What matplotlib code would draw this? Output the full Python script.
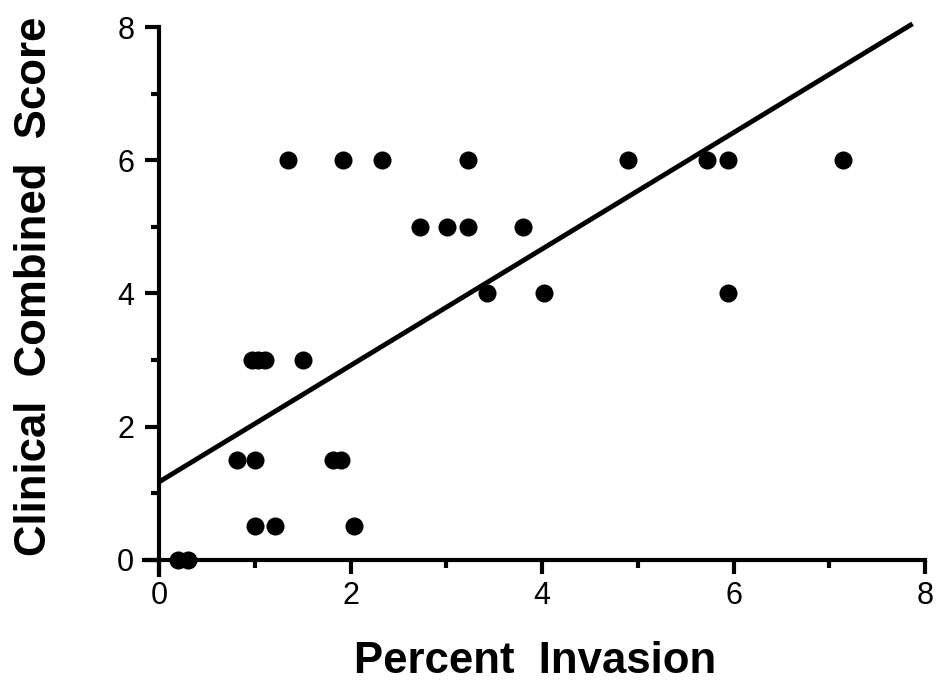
import numpy as np
import matplotlib
matplotlib.use("Agg")
import matplotlib.pyplot as plt
from matplotlib.ticker import MultipleLocator

# Data
percent_invasion = [0.20, 0.30, 0.81, 1.00, 1.00, 1.21, 0.97, 1.03, 1.10, 1.50,
                    1.34, 1.81, 1.90, 2.03, 1.92, 2.33, 2.72, 3.01, 3.23, 3.23,
                    3.42, 3.80, 4.02, 4.90, 5.72, 5.94, 5.94, 7.14]
clinical_score = [0, 0, 1.5, 1.5, 0.5, 0.5, 3, 3, 3, 3,
                  6, 1.5, 1.5, 0.5, 6, 6, 5, 5, 5, 6,
                  4, 5, 4, 6, 6, 6, 4, 6]
fit_intercept = 1.17
fit_slope = 0.874
fit_x = [0.0, 7.87]
x_ticks = [0, 2, 4, 6, 8]
y_ticks = [0, 2, 4, 6, 8]

plt.rcParams['font.family'] = ['Liberation Sans', 'DejaVu Sans']

fig = plt.figure(figsize=(9.38, 6.87), dpi=100)
W, H = 938, 687
left, right, top, bottom = 144, 925, 27, 575
ax = fig.add_axes([left / W, 1 - bottom / H, (right - left) / W, (bottom - top) / H])

ax.scatter(percent_invasion, clinical_score, s=13**2, color='black', zorder=3,
           clip_on=False, linewidths=0)
fx = np.array(fit_x)
ax.plot(fx, fit_intercept + fit_slope * fx, color='black', lw=3.5, clip_on=False,
        solid_capstyle='butt')

ax.set_xlim(-0.16, 8)
ax.set_ylim(-0.23, 8)
ax.spines['left'].set_position(('data', 0))
ax.spines['bottom'].set_position(('data', 0))
ax.spines['top'].set_visible(False)
ax.spines['right'].set_visible(False)
for s in ['left', 'bottom']:
    ax.spines[s].set_linewidth(3)

ax.set_xticks(x_ticks)
ax.set_yticks(y_ticks)
ax.xaxis.set_minor_locator(MultipleLocator(1))
ax.yaxis.set_minor_locator(MultipleLocator(1))
ax.tick_params(which='major', direction='out', length=10, width=3, labelsize=22)
ax.tick_params(axis='y', which='major', pad=8)
ax.tick_params(axis='x', which='major', pad=5)
ax.tick_params(which='minor', direction='out', length=5.5, width=3)

fig.text(535.5 / W, 1 - 673 / H, 'Percent  Invasion', fontsize=31.5, fontweight='bold',
         ha='center', va='baseline')
fig.text(35 / W, 1 - 286 / H, 'Clinical  Combined  Score', fontsize=31.5,
         fontweight='bold', rotation=90, ha='center', va='center')

fig.savefig('out.png', dpi=100, facecolor='white')
